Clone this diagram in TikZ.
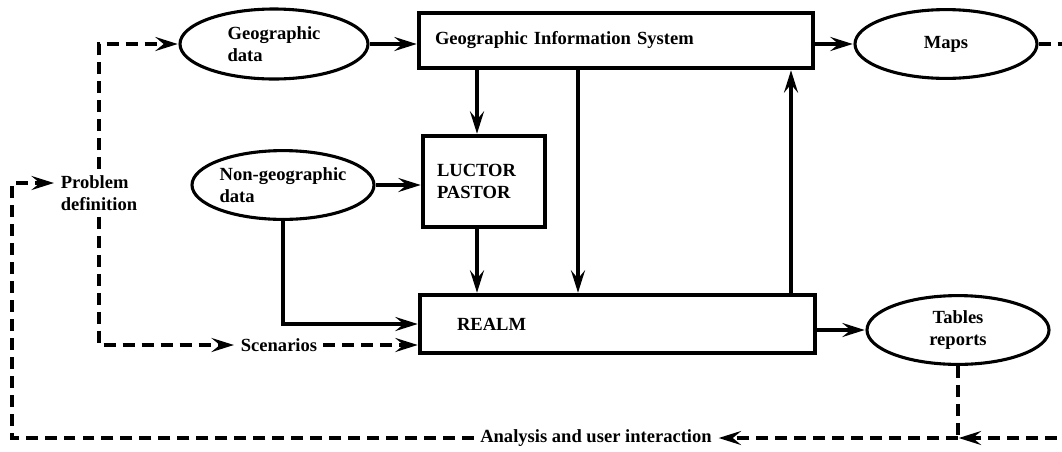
\documentclass[tikz,border=0pt]{standalone}
\usepackage{fontspec}
\setmainfont{Liberation Serif}
\usetikzlibrary{arrows.meta,shapes.geometric}

\tikzset{
  blob/.style={ellipse,draw,minimum width=4.55cm,minimum height=1.72cm,inner sep=0pt,align=left},
  block/.style={rectangle,draw,align=left},
  feedback/.style={dash pattern=on 8.5pt off 5pt},
}

\begin{document}
\begin{tikzpicture}[->,>={Stealth[length=16pt,width=10pt,inset=6pt]},shorten >=0.5pt,line width=2.2pt,font=\fontsize{13.2}{15.8}\selectfont\bfseries]
\useasboundingbox (0,0) rectangle (26.55,-11.275);

% data and problem side
\node[blob,minimum width=4.7cm,minimum height=1.75cm] (GD)  at (6.85,-1.1)    {Geographic\\ data};
\node[blob]                                        (NGD) at (7.075,-4.625) {Non-geographic\\ data};
\node[align=left]                                  (PD)  at (2.475,-4.825) {Problem\\ definition};
\node                                              (SC)  at (6.975,-8.625) {Scenarios};

% models
\node[block,minimum width=9.85cm,minimum height=1.375cm,text width=9.05cm,inner xsep=0.4cm]    (GIS) at (15.4,-1.0125)  {Geographic Information System};
\node[block,minimum width=3.05cm,minimum height=2.275cm,text width=2.35cm,inner xsep=0.35cm]   (LP)  at (12.1,-4.5375)  {LUCTOR\\ PASTOR};
\node[block,minimum width=9.875cm,minimum height=1.45cm,text width=8.025cm,inner xsep=0.925cm] (RLM) at (15.4375,-8.1)   {REALM};

% output
\node[blob]               (MAP) at (23.65,-1.1)  {Maps};
\node[blob,align=center]  (TR)  at (23.95,-8.25) {Tables\\ reports};
\node                     (AUI) at (14.9,-10.95) {Analysis and user interaction};

\coordinate (feed) at (11.925,0);
\coordinate (tap)  at (14.45,0);
\coordinate (back) at (19.775,0);
\coordinate (lft)  at (0.3,-4.575);
\coordinate (rgt)  at (27.2,0);
\coordinate (jn)   at (TR |- AUI);

% solid flows
\draw (GD) -- (GD -| GIS.west);
\draw (NGD) -- (NGD -| LP.west);
\draw (NGD) |- (RLM.west);
\draw (feed |- GIS.south) -- (feed |- LP.north);
\draw (feed |- LP.south) -- (feed |- RLM.north);
\draw (tap |- GIS.south) -- (tap |- RLM.north);
\draw (back |- RLM.north) -- (back |- GIS.south);
\draw (GIS.east |- MAP) -- (MAP);
\draw (RLM.east |- TR) -- (TR);

% dashed flows
\draw[feedback] (PD) |- (GD);
\draw[feedback] (PD) |- (SC);
\draw[feedback] (SC) -- (SC -| RLM.west);
\draw[feedback] (MAP) -- (MAP -| rgt) |- (jn);
\draw[feedback,-] (TR) -- (jn);
\draw[feedback] (jn) -- (AUI);
\draw[feedback] (AUI) -| (lft) -- (lft -| PD.west);
\end{tikzpicture}
\end{document}
